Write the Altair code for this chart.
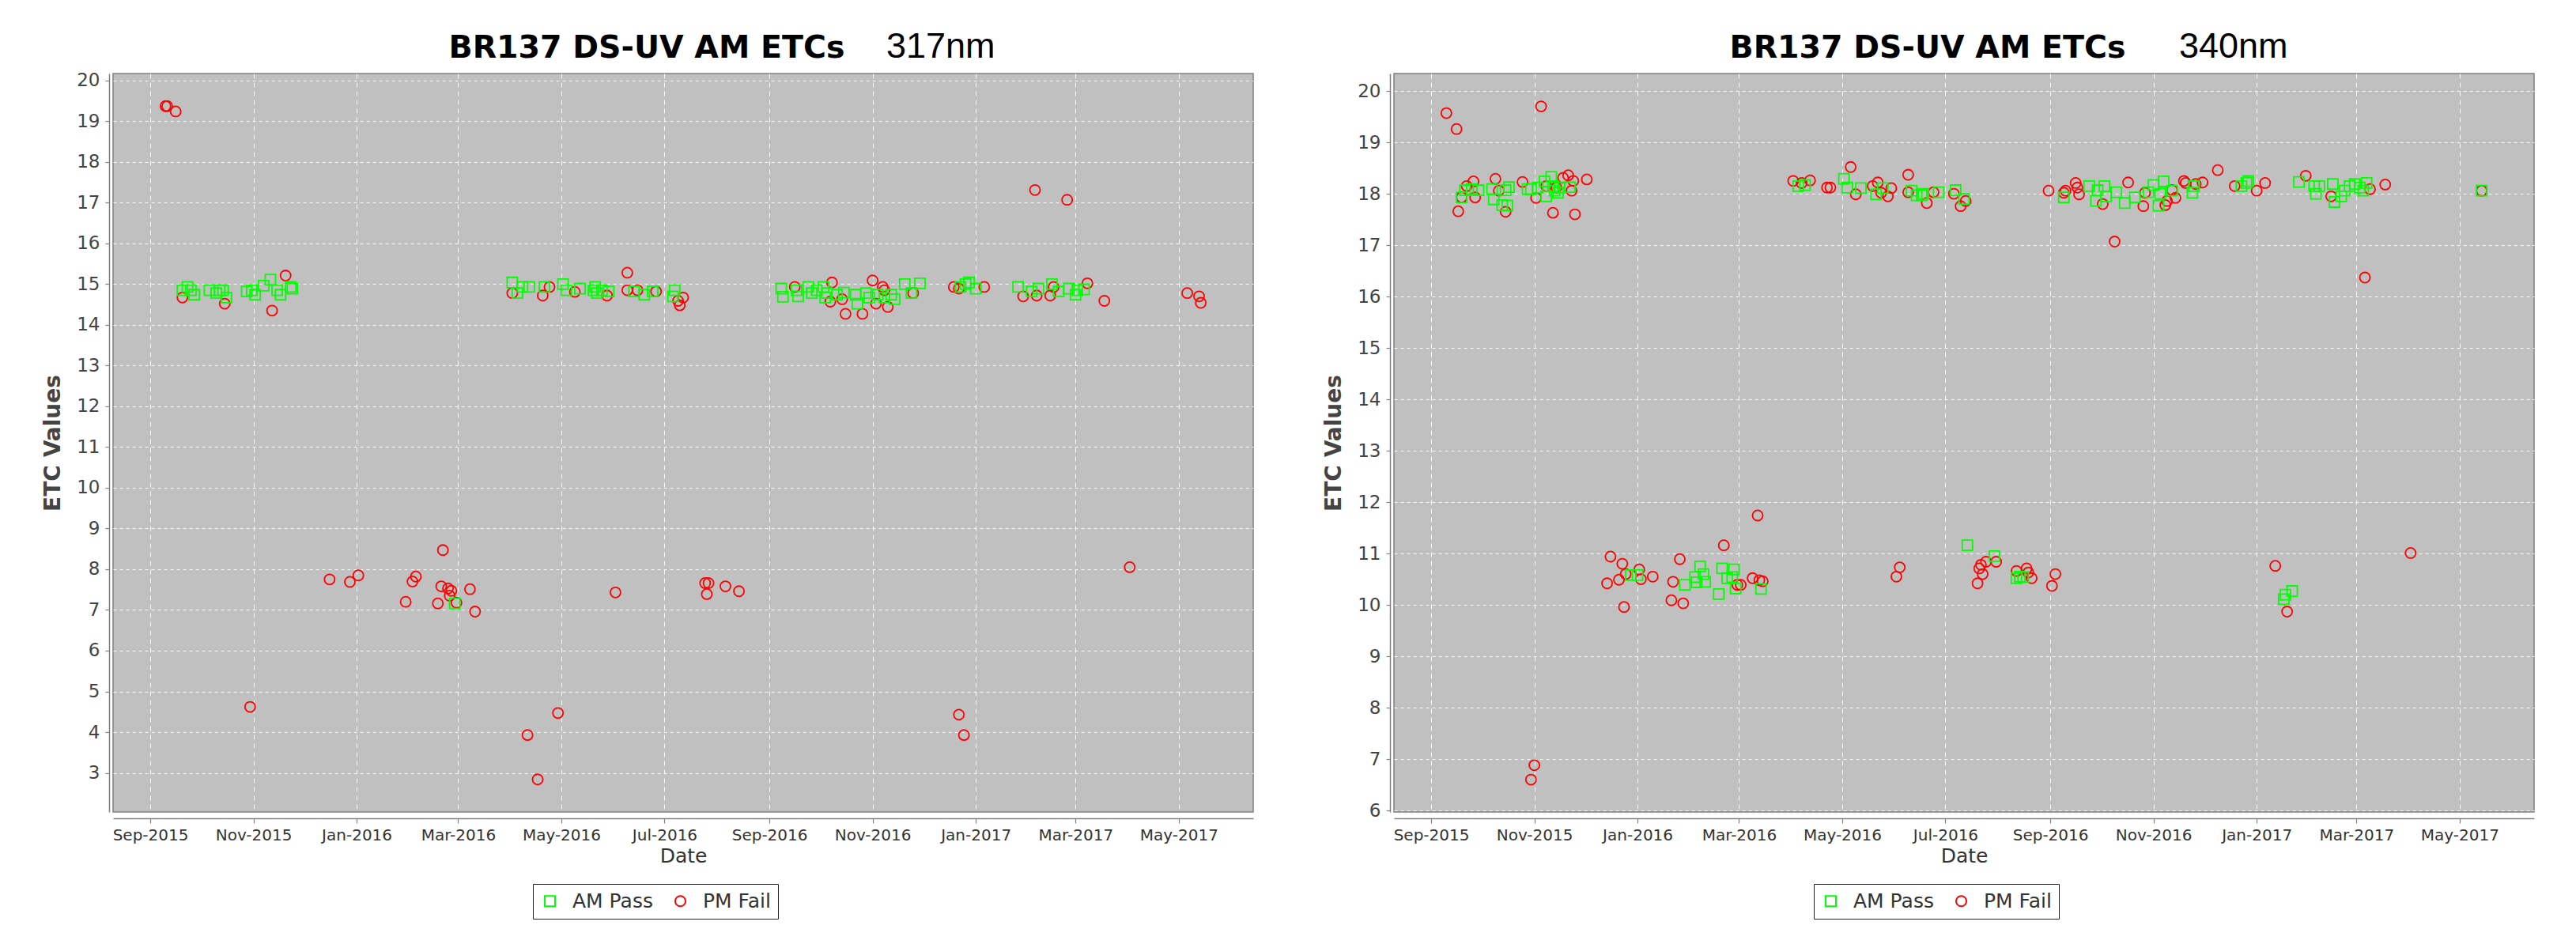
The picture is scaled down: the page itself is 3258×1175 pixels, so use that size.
import altair as alt
import pandas as pd

# ---------------- data ----------------
SERIES = ["AM Pass", "PM Fail"]
COLORS = ["#00FF00", "#FF0000"]
SHAPES = ["square", "circle"]

TITLE_MAIN = "BR137 DS-UV AM ETCs"
TITLE_317 = "317nm"
TITLE_340 = "340nm"

X_TICK_MONTHS = [(2015, 9), (2015, 11), (2016, 1), (2016, 3), (2016, 5), (2016, 7),
                 (2016, 9), (2016, 11), (2017, 1), (2017, 3), (2017, 5)]
X_START = (2015, 8, 10)
X_END = (2017, 6, 14)

Y_TICKS_317 = list(range(3, 21))
Y_DOMAIN_317 = [2.04, 20.17]
Y_TICKS_340 = list(range(6, 21))
Y_DOMAIN_340 = [5.97, 20.34]

# 317 nm, AM Pass
am317_dates = [
    "2015-09-20", "2015-09-23", "2015-09-25", "2015-09-27", "2015-10-06", "2015-10-10",
    "2015-10-12", "2015-10-14", "2015-10-16", "2015-10-28", "2015-10-31", "2015-11-02",
    "2015-11-07", "2015-11-11", "2015-11-15", "2015-11-17", "2015-11-23", "2015-11-24",
    "2016-02-28", "2016-04-02", "2016-04-05", "2016-04-08", "2016-04-12", "2016-04-21",
    "2016-05-02", "2016-05-04", "2016-05-12", "2016-05-20", "2016-05-21", "2016-05-22",
    "2016-05-25", "2016-05-29", "2016-06-13", "2016-06-19", "2016-06-24", "2016-07-06",
    "2016-07-07", "2016-09-08", "2016-09-09", "2016-09-17", "2016-09-18", "2016-09-24",
    "2016-09-26", "2016-09-29", "2016-10-03", "2016-10-04", "2016-10-05", "2016-10-11",
    "2016-10-15", "2016-10-22", "2016-10-23", "2016-10-28", "2016-10-30", "2016-11-04",
    "2016-11-08", "2016-11-12", "2016-11-14", "2016-11-20", "2016-11-24", "2016-11-29",
    "2016-12-23", "2016-12-26", "2016-12-28", "2017-01-01", "2017-01-26", "2017-02-03",
    "2017-02-07", "2017-02-15", "2017-02-19", "2017-02-25", "2017-03-01", "2017-03-02",
    "2017-03-06",
]
am317_values = [
    14.85, 14.93, 14.85, 14.74, 14.85, 14.78,
    14.85, 14.85, 14.67, 14.82, 14.85, 14.74,
    14.96, 15.11, 14.85, 14.74, 14.93, 14.89,
    7.16, 15.04, 14.78, 14.93, 14.93, 14.93,
    15.00, 14.85, 14.89, 14.85, 14.93, 14.78,
    14.85, 14.82, 14.82, 14.74, 14.82, 14.70,
    14.85, 14.89, 14.69, 14.85, 14.70, 14.93,
    14.78, 14.85, 14.93, 14.67, 14.78, 14.74,
    14.79, 14.74, 14.52, 14.78, 14.67, 14.74,
    14.67, 14.74, 14.63, 15.00, 14.78, 15.02,
    14.93, 15.00, 15.04, 14.89, 14.93, 14.82,
    14.89, 15.00, 14.82, 14.89, 14.74, 14.85,
    14.87,
]

# 317 nm, PM Fail
pm317_dates = [
    "2015-09-10", "2015-09-11", "2015-09-16", "2015-09-20", "2015-10-15", "2015-10-30",
    "2015-11-12", "2015-11-20", "2015-12-16", "2015-12-28", "2016-01-02", "2016-01-30",
    "2016-02-03", "2016-02-05", "2016-02-18", "2016-02-20", "2016-02-21", "2016-02-24",
    "2016-02-25", "2016-02-26", "2016-02-29", "2016-03-08", "2016-03-11", "2016-04-02",
    "2016-04-11", "2016-04-17", "2016-04-20", "2016-04-24", "2016-04-29", "2016-05-09",
    "2016-05-28", "2016-06-02", "2016-06-09", "2016-06-09", "2016-06-15", "2016-06-26",
    "2016-07-09", "2016-07-10", "2016-07-12", "2016-07-25", "2016-07-26", "2016-07-27",
    "2016-08-06", "2016-08-14", "2016-09-16", "2016-10-07", "2016-10-08", "2016-10-14",
    "2016-10-16", "2016-10-26", "2016-11-01", "2016-11-03", "2016-11-07", "2016-11-08",
    "2016-11-10", "2016-11-25", "2016-12-19", "2016-12-22", "2016-12-22", "2016-12-25",
    "2017-01-06", "2017-01-29", "2017-02-05", "2017-02-06", "2017-02-14", "2017-02-16",
    "2017-02-24", "2017-03-08", "2017-03-18", "2017-04-02", "2017-05-06", "2017-05-13",
    "2017-05-14",
]
pm317_values = [
    19.37, 19.37, 19.24, 14.67, 14.52, 4.62,
    14.35, 15.21, 7.75, 7.69, 7.85, 7.20,
    7.70, 7.82, 7.16, 7.58, 8.47, 7.53,
    7.35, 7.47, 7.18, 7.51, 6.96, 14.78,
    3.93, 2.84, 14.72, 14.93, 4.47, 14.81,
    14.72, 7.43, 15.28, 14.85, 14.85, 14.82,
    14.59, 14.48, 14.67, 7.66, 7.39, 7.66,
    7.58, 7.46, 14.93, 14.57, 15.04, 14.63,
    14.27, 14.27, 15.09, 14.52, 14.93, 14.85,
    14.44, 14.78, 14.93, 14.89, 4.43, 3.93,
    14.93, 14.70, 17.31, 14.72, 14.72, 14.93,
    17.07, 15.02, 14.59, 8.05, 14.78, 14.70,
    14.54,
]

# 340 nm, AM Pass
am340_dates = [
    "2015-09-19", "2015-09-21", "2015-09-25", "2015-09-29", "2015-10-07", "2015-10-08",
    "2015-10-13", "2015-10-15", "2015-10-16", "2015-10-17", "2015-10-28", "2015-10-30",
    "2015-11-03", "2015-11-07", "2015-11-08", "2015-11-11", "2015-11-12", "2015-11-13",
    "2015-11-15", "2015-11-16", "2015-11-22", "2015-12-28", "2016-01-01", "2016-01-29",
    "2016-02-04", "2016-02-05", "2016-02-07", "2016-02-09", "2016-02-10", "2016-02-18",
    "2016-02-20", "2016-02-23", "2016-02-26", "2016-02-27", "2016-02-28", "2016-03-14",
    "2016-04-05", "2016-04-09", "2016-05-02", "2016-05-04", "2016-05-12", "2016-05-21",
    "2016-05-25", "2016-06-11", "2016-06-14", "2016-06-17", "2016-06-18", "2016-06-27",
    "2016-07-07", "2016-07-12", "2016-07-14", "2016-07-30", "2016-08-12", "2016-08-14",
    "2016-08-16", "2016-09-09", "2016-09-24", "2016-09-28", "2016-09-29", "2016-10-03",
    "2016-10-04", "2016-10-10", "2016-10-15", "2016-10-21", "2016-10-29", "2016-11-01",
    "2016-11-04", "2016-11-05", "2016-11-07", "2016-11-12", "2016-11-24", "2016-11-25",
    "2016-12-23", "2016-12-26", "2016-12-27", "2017-01-17", "2017-01-18", "2017-01-22",
    "2017-01-26", "2017-02-04", "2017-02-05", "2017-02-07", "2017-02-15", "2017-02-16",
    "2017-02-20", "2017-02-22", "2017-02-25", "2017-02-28", "2017-03-03", "2017-03-05",
    "2017-03-07", "2017-05-14",
]
am340_values = [
    17.93, 18.07, 18.09, 18.07, 18.09, 17.89,
    17.78, 18.07, 17.77, 18.13, 18.09, 18.09,
    18.12, 18.24, 17.95, 18.33, 18.15, 18.06,
    18.02, 18.12, 18.13, 10.58, 10.58, 10.39,
    10.54, 10.44, 10.75, 10.60, 10.45, 10.21,
    10.71, 10.52, 10.54, 10.69, 10.32, 10.31,
    18.15, 18.17, 18.29, 18.12, 18.11, 17.99,
    18.11, 18.06, 17.97, 17.97, 18.00, 18.03,
    18.07, 17.90, 11.16, 10.95, 10.52, 10.55,
    10.54, 17.93, 18.15, 17.86, 18.07, 18.15,
    17.95, 18.03, 17.82, 17.93, 18.03, 18.17,
    17.77, 18.00, 18.24, 18.06, 18.02, 18.15,
    18.15, 18.21, 18.25, 10.11, 10.20, 10.27,
    18.23, 18.15, 18.00, 18.15, 18.19, 17.84,
    17.95, 18.06, 18.15, 18.19, 18.12, 18.06,
    18.21, 18.06,
]

# 340 nm, PM Fail
pm340_dates = [
    "2015-09-10", "2015-09-16", "2015-09-17", "2015-09-19", "2015-09-22", "2015-09-26",
    "2015-09-27", "2015-10-09", "2015-10-11", "2015-10-15", "2015-10-25", "2015-10-30",
    "2015-11-01", "2015-11-02", "2015-11-05", "2015-11-08", "2015-11-12", "2015-11-14",
    "2015-11-18", "2015-11-21", "2015-11-23", "2015-11-24", "2015-11-25", "2015-12-02",
    "2015-12-14", "2015-12-16", "2015-12-21", "2015-12-23", "2015-12-24", "2015-12-25",
    "2016-01-02", "2016-01-03", "2016-01-10", "2016-01-21", "2016-01-22", "2016-01-26",
    "2016-01-28", "2016-02-21", "2016-02-29", "2016-03-02", "2016-03-09", "2016-03-12",
    "2016-03-13", "2016-03-15", "2016-04-02", "2016-04-07", "2016-04-12", "2016-04-22",
    "2016-04-24", "2016-05-06", "2016-05-09", "2016-05-19", "2016-05-22", "2016-05-24",
    "2016-05-28", "2016-05-30", "2016-06-02", "2016-06-04", "2016-06-09", "2016-06-09",
    "2016-06-20", "2016-06-24", "2016-07-06", "2016-07-10", "2016-07-13", "2016-07-20",
    "2016-07-21", "2016-07-22", "2016-07-23", "2016-07-25", "2016-07-31", "2016-08-12",
    "2016-08-18", "2016-08-19", "2016-08-21", "2016-08-31", "2016-09-02", "2016-09-04",
    "2016-09-09", "2016-09-10", "2016-09-16", "2016-09-17", "2016-09-18", "2016-10-02",
    "2016-10-09", "2016-10-17", "2016-10-26", "2016-10-27", "2016-11-08", "2016-11-09",
    "2016-11-12", "2016-11-14", "2016-11-19", "2016-11-20", "2016-11-26", "2016-11-30",
    "2016-12-09", "2016-12-19", "2017-01-01", "2017-01-06", "2017-01-12", "2017-01-19",
    "2017-01-30", "2017-02-14", "2017-03-06", "2017-03-09", "2017-03-18", "2017-04-02",
    "2017-05-14",
]
pm340_values = [
    19.57, 19.26, 17.66, 17.93, 18.15, 18.24,
    17.93, 18.29, 18.06, 17.65, 18.23, 6.60,
    6.88, 17.92, 19.70, 18.15, 17.63, 18.12,
    18.31, 18.36, 18.06, 18.25, 17.60, 18.28,
    10.42, 10.94, 10.49, 10.80, 9.96, 10.60,
    10.69, 10.50, 10.55, 10.09, 10.45, 10.89,
    10.03, 11.16, 10.39, 10.39, 10.52, 11.74,
    10.48, 10.46, 18.25, 18.21, 18.26, 18.12,
    18.12, 18.52, 17.99, 18.15, 18.22, 18.02,
    17.95, 18.11, 10.55, 10.73, 18.37, 18.03,
    17.82, 18.03, 18.00, 17.76, 17.86, 10.42,
    10.71, 10.78, 10.60, 10.84, 10.84, 10.66,
    10.71, 10.63, 10.52, 18.06, 10.37, 10.60,
    18.02, 18.06, 18.21, 18.12, 17.99, 17.80,
    17.07, 18.22, 17.76, 18.02, 17.78, 17.86,
    18.07, 17.92, 18.25, 18.21, 18.19, 18.22,
    18.46, 18.15, 18.06, 18.21, 10.76, 9.87,
    18.35, 17.95, 16.37, 18.09, 18.18, 11.01,
    18.06,
]

# ---------------- chart ----------------
FONT = "DejaVu Sans"


def make_frame(am_d, am_v, pm_d, pm_v):
    pm = pd.DataFrame({"Date": pm_d, "ETC": pm_v, "Series": SERIES[1]})
    am = pd.DataFrame({"Date": am_d, "ETC": am_v, "Series": SERIES[0]})
    return pd.concat([pm, am], ignore_index=True)  # PM drawn first, AM on top


def dt(y, m, d):
    return alt.DateTime(year=y, month=m, date=d, utc=True)


def legend():
    return alt.Legend(
        title=None, orient="none", legendX=531, legendY=1025, direction="horizontal",
        strokeColor="#222222", fillColor="white", padding=9, columnPadding=22,
        labelOffset=16, labelFont=FONT, labelFontSize=25, labelColor="#333333",
        symbolSize=170, symbolStrokeWidth=2,
    )


def panel(df, ydomain, yticks, nm_text, nm_x):
    points = alt.Chart(df).mark_point(filled=False, size=170, strokeWidth=1.8, opacity=1).encode(
        x=alt.X(
            "Date:T",
            scale=alt.Scale(type="utc", domain=[dt(*X_START), dt(*X_END)], nice=False),
            axis=alt.Axis(
                values=[dt(y, m, 1) for y, m in X_TICK_MONTHS],
                labelExpr="utcFormat(datum.value, '%b-%Y')",
                title="Date", offset=8, domainColor="#808080", domainWidth=1.5,
                tickColor="#808080", tickSize=6, tickWidth=1.2,
                labelFont=FONT, labelFontSize=20, labelColor="#333333", labelPadding=5,
                labelOverlap=False, labelFlush=False,
                titleFont=FONT, titleFontSize=25, titleFontWeight="normal", titleColor="#333333",
                titlePadding=4,
                grid=True, gridColor="#FFFFFF", gridDash=[6, 5], gridWidth=1, gridOpacity=0.9,
            ),
        ),
        y=alt.Y(
            "ETC:Q",
            scale=alt.Scale(domain=ydomain, nice=False, zero=False),
            axis=alt.Axis(
                values=yticks, title="ETC Values", offset=5, domainColor="#808080", domainWidth=1.5,
                tickColor="#808080", tickSize=5, tickWidth=1.2,
                labelFont=FONT, labelFontSize=23, labelColor="#444444", labelPadding=7,
                titleFont=FONT, titleFontSize=28, titleFontWeight="bold", titleColor="#444444",
                titlePadding=15,
                grid=True, gridColor="#FFFFFF", gridDash=[4, 4], gridWidth=1, gridOpacity=0.9,
            ),
        ),
        color=alt.Color("Series:N", scale=alt.Scale(domain=SERIES, range=COLORS), legend=legend()),
        shape=alt.Shape("Series:N", scale=alt.Scale(domain=SERIES, range=SHAPES), legend=legend()),
    )
    title_main = alt.Chart(pd.DataFrame({"t": [TITLE_MAIN]})).mark_text(
        font=FONT, fontWeight="bold", fontSize=39.5, align="center", baseline="alphabetic", color="#000000"
    ).encode(text="t:N", x=alt.value(675), y=alt.value(-20))
    title_nm = alt.Chart(pd.DataFrame({"t": [nm_text]})).mark_text(
        font="Liberation Sans", fontSize=45, align="left", baseline="alphabetic", color="#000000"
    ).encode(text="t:N", x=alt.value(nm_x), y=alt.value(-20))
    return alt.layer(points, title_main, title_nm).properties(width=1442, height=934)


left = panel(make_frame(am317_dates, am317_values, pm317_dates, pm317_values),
             Y_DOMAIN_317, Y_TICKS_317, TITLE_317, 978)
right = panel(make_frame(am340_dates, am340_values, pm340_dates, pm340_values),
              Y_DOMAIN_340, Y_TICKS_340, TITLE_340, 993)

chart = (
    alt.hconcat(left, right, spacing=86)
    .resolve_scale(color="independent", shape="independent", x="independent", y="independent")
    .resolve_legend(color="independent", shape="independent")
    .configure_view(fill="#C0C0C0", stroke="#808080", strokeWidth=1.5)
    .properties(padding={"left": 44, "top": 28, "right": 5, "bottom": 5}, background="white")
)

chart.save("out.html", embed_options={"renderer": "svg", "actions": False})
